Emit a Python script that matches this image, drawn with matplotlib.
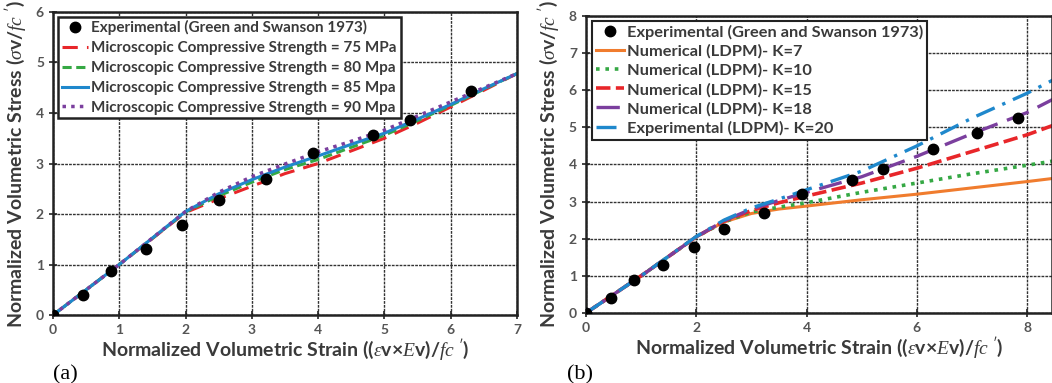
import matplotlib
matplotlib.use('Agg')
import matplotlib.pyplot as plt

plt.rcParams['font.family'] = ['Lato', 'DejaVu Sans']
plt.rcParams['mathtext.fontset'] = 'custom'
plt.rcParams['mathtext.it'] = 'Liberation Serif:italic'
plt.rcParams['mathtext.rm'] = 'Lato'

# experimental data (Green and Swanson 1973)
exp_x = [0.0, 0.45, 0.88, 1.4, 1.95, 2.5, 3.22, 3.92, 4.83, 5.38, 6.3, 7.09, 7.83]
exp_y = [0.0, 0.4, 0.88, 1.3, 1.78, 2.27, 2.7, 3.2, 3.57, 3.87, 4.43, 4.85, 5.25]

# panel (a): microscopic compressive strength
a_x = [0, 1, 2, 2.5, 3, 3.5, 4, 4.5, 5, 5.5, 6, 6.5, 7]
a_75 = [0, 1.0, 2.03, 2.3, 2.55, 2.8, 3.0, 3.25, 3.5, 3.8, 4.12, 4.45, 4.78]
a_80 = [0, 1.0, 2.04, 2.36, 2.63, 2.88, 3.08, 3.32, 3.56, 3.85, 4.15, 4.47, 4.78]
a_85 = [0, 1.0, 2.05, 2.4, 2.68, 2.93, 3.15, 3.38, 3.6, 3.88, 4.17, 4.48, 4.78]
a_90 = [0, 1.0, 2.05, 2.43, 2.74, 2.99, 3.23, 3.44, 3.66, 3.94, 4.22, 4.5, 4.78]
a_labels = ['Microscopic Compressive Strength = 75 MPa',
            'Microscopic Compressive Strength = 80 Mpa',
            'Microscopic Compressive Strength = 85 Mpa',
            'Microscopic Compressive Strength = 90 Mpa']

# panel (b): LDPM with different K
b_x = [0, 1, 2, 2.5, 3, 3.5, 4, 5, 6, 7, 8, 8.5]
b_k7 = [0, 1.0, 2.05, 2.45, 2.68, 2.8, 2.88, 3.05, 3.2, 3.37, 3.54, 3.63]
b_k10 = [0, 1.0, 2.05, 2.45, 2.72, 2.85, 2.97, 3.25, 3.5, 3.75, 3.98, 4.1]
b_k15 = [0, 1.0, 2.05, 2.47, 2.76, 2.97, 3.15, 3.5, 3.9, 4.35, 4.8, 5.07]
b_k18 = [0, 1.0, 2.05, 2.48, 2.8, 3.03, 3.25, 3.67, 4.22, 4.83, 5.4, 5.78]
b_k20 = [0, 1.0, 2.06, 2.5, 2.83, 3.07, 3.32, 3.82, 4.5, 5.25, 5.92, 6.3]
b_labels = ['Numerical (LDPM)- K=7', 'Numerical (LDPM)- K=10',
            'Numerical (LDPM)- K=15', 'Numerical (LDPM)- K=18',
            'Experimental (LDPM)- K=20']

red = '#e8262a'
green = '#35a844'
blue = '#1f88cc'
purple = '#7b3f9e'
orange = '#f07c2e'
txt = '#3a3a3a'

fig = plt.figure(figsize=(10.52, 3.83), dpi=100)
ax1 = fig.add_axes([0.0504, 0.1775, 0.441, 0.7912])
ax2 = fig.add_axes([0.557, 0.1828, 0.443, 0.7755])

xlab = r'Normalized Volumetric Strain (($\it{\varepsilon}$v×$\it{E}$v)/$\it{fc}$ $^{\prime}$)'
ylab = r'Normalized Volumetric Stress ($\it{\sigma}$v/$\it{fc}$ $^{\prime}$)'


def style(ax):
    ax.grid(True, color='#333333', linestyle=(0, (2, 0.8)), linewidth=1.0)
    ax.set_axisbelow(True)
    for s in ax.spines.values():
        s.set_linewidth(1.8)
        s.set_color('#222222')
    ax.tick_params(direction='inout', length=6, width=1.2, labelsize=10,
                   labelcolor='#555555', color='#222222')
    for lab in ax.get_xticklabels() + ax.get_yticklabels():
        lab.set_fontweight('bold')
    ax.set_xlabel(xlab, fontsize=14, fontweight='bold', color=txt, labelpad=1)
    ax.set_ylabel(ylab, fontsize=14, fontweight='bold', color=txt, labelpad=4)


def legend(ax, lw, size, spacing):
    leg = ax.legend(loc='upper left', bbox_to_anchor=(0.005, 0.995),
                    prop={'weight': 'bold', 'size': size}, frameon=True, fancybox=False,
                    handlelength=1.7, handletextpad=0.2, labelspacing=spacing,
                    borderpad=0.25, borderaxespad=0.2)
    leg.get_frame().set_edgecolor('#222222')
    leg.get_frame().set_linewidth(lw)
    leg.get_frame().set_alpha(1)
    for t in leg.get_texts():
        t.set_color(txt)


# ---- (a)
ax1.plot(exp_x[:11], exp_y[:11], 'o', color='black', ms=7.5, zorder=5,
         label='Experimental (Green and Swanson 1973)')
ax1.plot(a_x, a_75, color=red, lw=2.2, linestyle=(0, (5, 3)), label=a_labels[0])
ax1.plot(a_x, a_80, color=green, lw=2.2, linestyle=(0, (3, 1.5)), label=a_labels[1])
ax1.plot(a_x, a_85, color=blue, lw=2.2, label=a_labels[2])
ax1.plot(a_x, a_90, color=purple, lw=2.5, linestyle=(0, (1, 1.5)), label=a_labels[3])
ax1.set_xlim(0, 7)
ax1.set_ylim(0, 6)
ax1.set_xticks(range(0, 8))
ax1.set_yticks(range(0, 7))
style(ax1)
legend(ax1, 1.8, 11, 0.38)

# ---- (b)
ax2.plot(exp_x, exp_y, 'o', color='black', ms=7.5, zorder=5,
         label='Experimental (Green and Swanson 1973)')
ax2.plot(b_x, b_k7, color=orange, lw=2.2, label=b_labels[0])
ax2.plot(b_x, b_k10, color=green, lw=2.6, linestyle=(0, (1, 1.6)), label=b_labels[1])
ax2.plot(b_x, b_k15, color=red, lw=2.6, linestyle=(0, (4, 1.5)), label=b_labels[2])
ax2.plot(b_x, b_k18, color=purple, lw=2.4, linestyle=(0, (7, 3)), label=b_labels[3])
ax2.plot(b_x, b_k20, color=blue, lw=2.4, linestyle=(0, (6, 2.5, 1, 2.5)), label=b_labels[4])
ax2.set_xlim(0, 8.45)
ax2.set_ylim(0, 8)
ax2.set_xticks([0, 2, 4, 6, 8])
ax2.set_yticks(range(0, 9))
style(ax2)
legend(ax2, 1.5, 11.8, 0.28)

fig.text(0.0504, 0.01, '(a)', family='Liberation Serif', fontsize=16)
fig.text(0.539, 0.01, '(b)', family='Liberation Serif', fontsize=16)

fig.savefig('out.png', dpi=100)
